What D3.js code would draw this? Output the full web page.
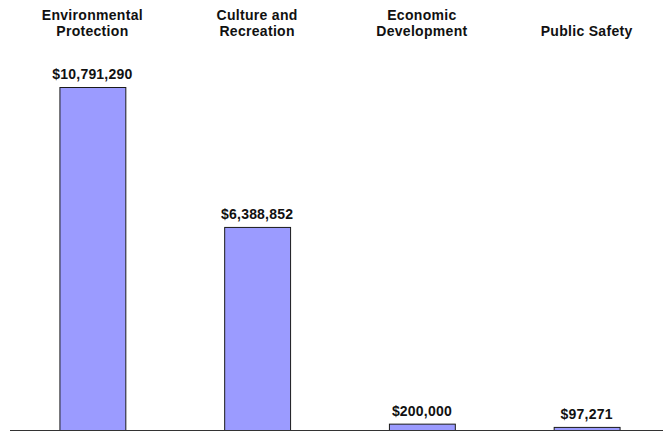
<!DOCTYPE html>
<html>
<head>
<meta charset="utf-8">
<script src="https://cdn.jsdelivr.net/npm/d3@7"></script>
<style>
  html, body { margin: 0; padding: 0; background: #fff; }
  svg { display: block; }
  text { font-family: "Liberation Sans", Arial, sans-serif; font-weight: bold; fill: #111; }
</style>
</head>
<body>
<svg id="chart" width="663" height="432"></svg>
<script>
const categories = [["Environmental", "Protection"], ["Culture and", "Recreation"], ["Economic", "Development"], ["Public Safety"]];
const categoryKeys = ["Environmental Protection", "Culture and Recreation", "Economic Development", "Public Safety"];
const values = [10791290, 6388852, 200000, 97271];
const valueLabels = ["$10,791,290", "$6,388,852", "$200,000", "$97,271"];

const W = 663, H = 432;
const baseY = 430;
const svg = d3.select("#chart");

const x = d3.scaleBand().domain(categoryKeys).range([10, 669]).paddingInner(0.6).paddingOuter(0.3);
const y = d3.scaleLinear().domain([0, 10791290]).range([baseY, 87]);

// bars
svg.selectAll("rect.bar").data(values).enter().append("rect")
  .attr("class", "bar")
  .attr("x", (d, i) => x(categoryKeys[i]) + 0.5)
  .attr("y", d => y(d) + 0.5)
  .attr("width", x.bandwidth())
  .attr("height", d => baseY - y(d))
  .attr("fill", "#9b9bff")
  .attr("stroke", "#1a1a1a")
  .attr("stroke-width", 1);

// axis baseline
svg.append("line")
  .attr("x1", 10).attr("x2", W)
  .attr("y1", baseY + 0.5).attr("y2", baseY + 0.5)
  .attr("stroke", "#333").attr("stroke-width", 1);

// value labels
svg.selectAll("text.val").data(values).enter().append("text")
  .attr("class", "val")
  .attr("x", (d, i) => x(categoryKeys[i]) + x.bandwidth() / 2)
  .attr("y", d => y(d) - 8)
  .attr("text-anchor", "middle")
  .style("font-size", "14px")
  .style("letter-spacing", "0.2px")
  .text((d, i) => valueLabels[i]);

// category labels (bottom aligned)
const lineH = 16.5;
const lastBaseline = 36;
categories.forEach((lines, i) => {
  const cx = x(categoryKeys[i]) + x.bandwidth() / 2;
  const t = svg.append("text")
    .attr("text-anchor", "middle")
    .style("font-size", "14px")
    .style("letter-spacing", "0.3px");
  lines.forEach((ln, j) => {
    t.append("tspan")
      .attr("x", cx)
      .attr("y", lastBaseline - (lines.length - 1 - j) * lineH)
      .text(ln);
  });
});
</script>
</body>
</html>
